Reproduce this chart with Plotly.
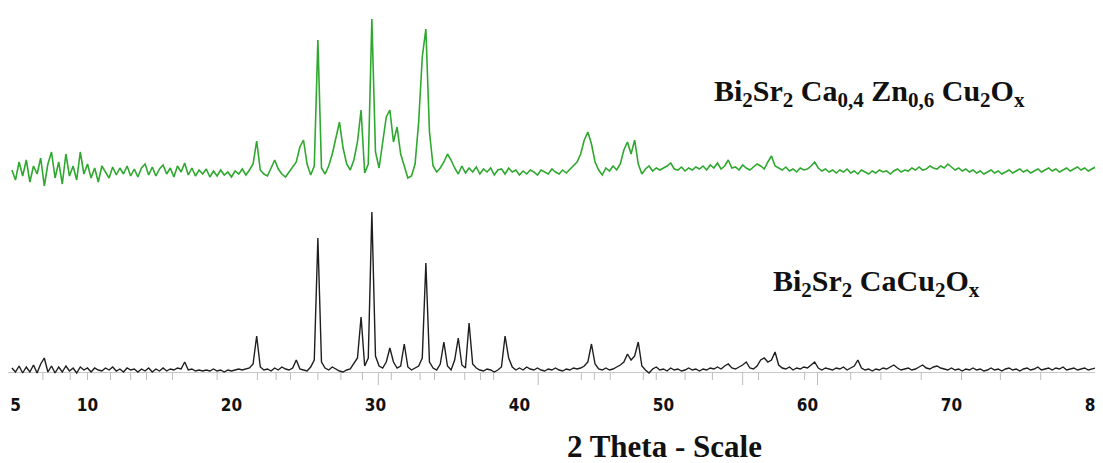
import plotly.graph_objects as go

# ---- sampling grid (2-theta, degrees) ----
X_START = 4.75
X_STEP = 0.25

# ---- Bi2Sr2Ca0.4Zn0.6Cu2Ox (green) intensities, a.u. relative to its own baseline ----
zn_intensity = [
    2,
    -8, 10, -4, 12,      # 5
    -10, 6, -2, 14,      # 6
    -14, 8, 20, -6,      # 7
    10, -12, 18, -4,     # 8
    6, -8, 20, -2,       # 9
    8, -6, 4, -10,       # 10
    6, 0, -6, 5,         # 11
    -3, 4, -2, 6,        # 12
    -4, 3, -5, 4,        # 13
    8, -3, 5, -4,        # 14
    3, 7, -2, 4,         # 15
    -5, 6, 0, 9,         # 16
    -3, 4, -4, 2,        # 17
    -2, 3, -5, 1,        # 18
    -4, 2, -3, 0,        # 19
    -5, 1, -2, 3,        # 20
    -3, 2, 8, 31,        # 21
    2, -2, -4, 4,        # 22
    12, 3, -2, -5,       # 23
    0, 4, 10, 25,        # 24
    32, 8, -3, 6,        # 25
    132, 4, -2, 6,       # 26
    18, 34, 50, 24,      # 27
    8, 2, 12, 30,        # 28
    62, -1, 8, 153,      # 29
    20, 4, 30, 55,       # 30
    62, 30, 45, 18,      # 31
    6, -6, -4, 8,        # 32
    50, 115, 143, 40,    # 33
    6, 0, 4, 10,         # 34
    18, 12, 4, -2,       # 35
    6, -1, 4, 0,         # 36
    5, -2, 3, 0,         # 37
    4, -3, 2, 3,         # 38
    -2, 4, 0, 2,         # 39
    -3, 1, -2, 2,        # 40
    0, -3, 2, 0,         # 41
    -2, 3, 0, -2,        # 42
    2, -1, 3, 6,         # 43
    10, 18, 32, 40,      # 44
    28, 10, 2, -3,       # 45
    4, 1, 6, 2,          # 46
    8, 22, 30, 18,       # 47
    32, 8, -2, 3,        # 48
    6, 1, 4, 2,          # 49
    4, 6, 9, 3,          # 50
    2, 5, 1, 4,          # 51
    2, 5, 3, 6,          # 52
    2, 7, 4, 9,          # 53
    3, 6, 12, 4,         # 54
    5, 2, 7, 4,          # 55
    2, 5, 8, 6,          # 56
    3, 10, 16, 6,        # 57
    4, 2, 5, 1,          # 58
    3, 0, 4, 2,          # 59
    3, 6, 10, 4,         # 60
    1, 3, 0, 2,          # 61
    -1, 2, 0, 3,         # 62
    -1, 1, -2, 2,        # 63
    0, -2, 1, -1,        # 64
    2, 0, 1, -2,         # 65
    1, 3, 0, 2,          # 66
    1, 4, 2, 5,          # 67
    2, 3, 6, 4,          # 68
    3, 6, 4, 8,          # 69
    5, 2, 4, 1,          # 70
    3, 0, 2, -1,         # 71
    1, -2, 0, 2,         # 72
    -1, 1, -2, 0,        # 73
    2, -1, 1, 3,         # 74
    0, 2, -1, 1,         # 75
    3, 0, 2, 4,          # 76
    1, 3, 0, 2,          # 77
    4, 1, 3, 5,          # 78
    2, 4, 1, 3,          # 79
    5, 2, 4,             # 80
]

# ---- Bi2Sr2CaCu2Ox (black) intensities, a.u. relative to its own baseline ----
ca_intensity = [
    2,
    -2, 4, -3, 3,        # 5
    -2, 5, -3, 6,        # 6
    12, -2, 4, -3,       # 7
    3, -2, 4, -1,        # 8
    2, -3, 3, 0,         # 9
    2, -2, 2, 0,         # 10
    -1, 2, 0, 3,         # 11
    -1, 1, -2, 2,        # 12
    0, 1, -2, 1,         # 13
    -1, 2, -2, 1,        # 14
    -1, 2, -1, 1,        # 15
    0, 2, 1, 8,          # 16
    0, 1, -1, 0,         # 17
    -1, 0, -1, 1,        # 18
    -1, 0, -2, 0,        # 19
    -1, 0, 1, 0,         # 20
    1, 2, 6, 34,         # 21
    3, 0, 1, -1,         # 22
    2, 0, 3, 1,          # 23
    0, 2, 10, 1,         # 24
    0, -1, 3, 10,        # 25
    132, 8, 2, 0,        # 26
    3, 1, -1, -2,        # 27
    0, 1, 6, 12,         # 28
    53, 4, 12, 158,      # 29
    14, 4, 2, 8,         # 30
    22, 8, 2, 4,         # 31
    26, 3, 0, 2,         # 32
    4, 12, 107, 8,       # 33
    2, 0, 6, 28,         # 34
    4, 0, 10, 32,        # 35
    5, 2, 47, 6,         # 36
    2, 0, -1, 1,         # 37
    0, -2, 0, 3,         # 38
    34, 12, 3, 0,        # 39
    2, 0, 3, 1,          # 40
    0, 2, 0, -1,         # 41
    1, 0, 2, 0,          # 42
    -1, 1, 0, 2,         # 43
    1, 2, 4, 8,          # 44
    26, 6, 1, 0,         # 45
    2, 0, 1, 3,          # 46
    5, 8, 16, 10,        # 47
    14, 28, 4, 0,        # 48
    -3, 1, 3, 0,         # 49
    1, -1, 2, 0,         # 50
    1, -1, 0, 2,         # 51
    0, 1, -1, 1,         # 52
    0, 2, 1, 3,          # 53
    1, 4, 6, 2,          # 54
    1, 3, 5, 8,          # 55
    2, 1, 4, 10,         # 56
    12, 8, 10, 18,       # 57
    5, 2, 1, 3,          # 58
    0, 2, 1, 3,          # 59
    2, 5, 8, 2,          # 60
    0, 2, 1, 0,          # 61
    2, 1, 3, 0,          # 62
    2, 4, 10, 2,         # 63
    0, 1, -1, 1,         # 64
    0, 2, 1, 3,          # 65
    5, 2, 0, 1,          # 66
    2, 0, 1, 3,          # 67
    5, 2, 1, 3,          # 68
    4, 2, 1, 0,          # 69
    2, 0, 1, -1,         # 70
    1, 0, 2, 0,          # 71
    1, -1, 0, 2,         # 72
    0, 1, -1, 1,         # 73
    2, 0, 1, -1,         # 74
    1, 2, 0, 1,          # 75
    3, 0, 1, 2,          # 76
    0, 2, 1, 3,          # 77
    0, 1, 2, 0,          # 78
    1, 2, 0, 1,          # 79
    2, 0, 1,             # 80
]

# ---- reference line positions (2-theta) marked under the axis ----
ref_lines = [6.9, 8.8, 10.0, 11.6, 13.0, 14.1, 15.9, 19.0, 21.8, 23.1, 24.1, 26.0,
             27.6, 29.1, 30.2, 31.1, 33.1, 34.1, 36.2, 37.3, 38.2, 41.3, 44.3, 45.2,
             46.3, 48.6, 49.5, 51.5, 53.4, 55.5, 56.6, 59.8, 60.7, 63.0, 65.1, 67.9,
             70.7, 73.4, 76.2]
ref_strong = [30.2, 41.3, 55.5, 60.7]

tick_vals = [5, 10, 20, 30, 40, 50, 60, 70, 80]
tick_text = ["5", "10", "20", "30", "40", "50", "60", "70", "80"]

label_zn = "<b>Bi<sub>2</sub>Sr<sub>2</sub> Ca<sub>0,4</sub> Zn<sub>0,6</sub> Cu<sub>2</sub>O<sub>x</sub></b>"
label_ca = "<b>Bi<sub>2</sub>Sr<sub>2</sub> CaCu<sub>2</sub>O<sub>x</sub></b>"
x_title = "<b>2 Theta - Scale</b>"

# offsets for stacking the two patterns
ZN_OFFSET = 200
CA_OFFSET = 2

def grid(n):
    return [X_START + X_STEP * i for i in range(n)]

fig = go.Figure()

# reference stick marks
sx, sy = [], []
for p in ref_lines:
    ln = 13 if p in ref_strong else 8
    sx += [p, p, None]
    sy += [0, -ln, None]
fig.add_trace(go.Scatter(x=sx, y=sy, mode="lines",
                         line=dict(color="#bdbdbd", width=1), hoverinfo="skip",
                         showlegend=False))

fig.add_trace(go.Scatter(x=grid(len(ca_intensity)),
                         y=[v + CA_OFFSET for v in ca_intensity],
                         mode="lines", line=dict(color="#1e1e1e", width=1.4),
                         showlegend=False))
fig.add_trace(go.Scatter(x=grid(len(zn_intensity)),
                         y=[v + ZN_OFFSET for v in zn_intensity],
                         mode="lines", line=dict(color="#2fa82f", width=1.6),
                         showlegend=False))

serif = "Liberation Serif, Times New Roman, serif"
fig.add_annotation(x=64.3, y=279, xref="x", yref="y", text=label_zn, showarrow=False,
                   font=dict(family=serif, size=30, color="#111"))
fig.add_annotation(x=64.8, y=89, xref="x", yref="y", text=label_ca, showarrow=False,
                   font=dict(family=serif, size=30, color="#111"))
fig.add_annotation(x=50.1, y=-0.140, xref="x", yref="paper", yanchor="middle",
                   text=x_title, showarrow=False,
                   font=dict(family=serif, size=31, color="#111"))

fig.update_layout(
    width=1103, height=463,
    margin=dict(l=0, r=0, t=0, b=78),
    paper_bgcolor="white", plot_bgcolor="white",
    xaxis=dict(range=[4.48, 81.08], tickmode="array", tickvals=tick_vals,
               ticktext=tick_text, showgrid=False, zeroline=False, showline=False,
               ticks="", automargin=False, ticklabeloverflow="allow",
               tickfont=dict(family="Liberation Sans Narrow, DejaVu Sans Condensed, Arial Narrow, sans-serif",
                             size=17, color="#111", weight="bold")),
    yaxis=dict(range=[-21, 364], showgrid=False, showticklabels=False, automargin=False,
               zeroline=True, zerolinecolor="#c8c8c8", zerolinewidth=1),
)

fig.write_html("out.html")
